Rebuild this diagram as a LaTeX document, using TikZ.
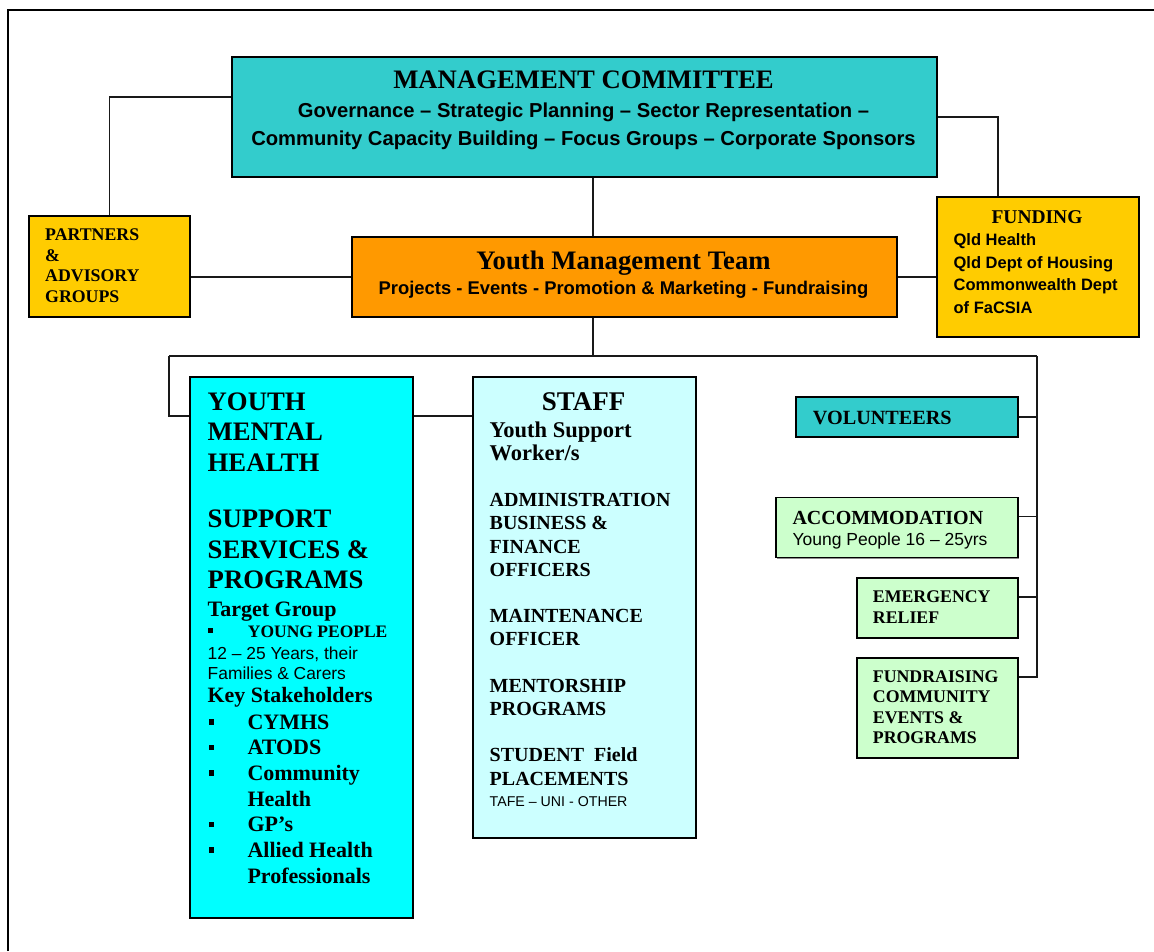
\documentclass[tikz,border=0pt]{standalone}
\usepackage{fontspec}
\setmainfont{Liberation Serif}
\newfontfamily\arial{Liberation Sans}
\usetikzlibrary{shadows}

\definecolor{mcteal}{HTML}{33CCCC}
\definecolor{ymtorange}{HTML}{FF9900}
\definecolor{goldbox}{HTML}{FFCC00}
\definecolor{cyanbox}{HTML}{00FFFF}
\definecolor{palecyan}{HTML}{CCFFFF}
\definecolor{palegreen}{HTML}{CCFFCC}

% Times-style bold and Arial-style bold/regular at a given size / line skip
\newcommand\tb[2]{\rmfamily\fontsize{#1pt}{#2pt}\selectfont\bfseries}
\newcommand\ab[2]{\arial\fontsize{#1pt}{#2pt}\selectfont\bfseries}
\newcommand\ar[2]{\arial\fontsize{#1pt}{#2pt}\selectfont\mdseries}
% square bullet: side, raise, slot width
\newcommand\bul[3]{\makebox[#3][l]{\rule[#2]{#1}{#1}}}

\tikzset{
  orgbox/.style={draw=black, line width=1.7pt, inner sep=0pt, anchor=north west,
    drop shadow={shadow xshift=1.5pt, shadow yshift=-1.5pt, fill=black!45, opacity=1}},
  lbl/.style={inner sep=0pt, anchor=base west},
  clbl/.style={inner sep=0pt, anchor=base},
  conn/.style={line width=1.7pt, draw=black!90},
}

\begin{document}
\begin{tikzpicture}[x=1pt, y=-1pt]
\useasboundingbox (0,0) rectangle (1154,951);

% page frame
\draw[line width=2pt] (8.3,951) -- (8.3,10) -- (1154,10);

% ---- boxes ----
\node[orgbox, fill=mcteal, minimum width=705pt, minimum height=120pt] (mc) at (231,56) {};
\node[orgbox, fill=goldbox, minimum width=161pt, minimum height=101pt] (partners) at (28,215) {};
\node[orgbox, fill=ymtorange, minimum width=545pt, minimum height=80pt] (ymt) at (351,236) {};
\node[orgbox, fill=goldbox, minimum width=202pt, minimum height=140pt] (funding) at (936,196) {};
\node[orgbox, fill=cyanbox, minimum width=223pt, minimum height=541pt] (ymh) at (189,376) {};
\node[orgbox, fill=palecyan, minimum width=223pt, minimum height=461pt] (staff) at (472,376) {};
\node[orgbox, fill=mcteal, minimum width=222pt, minimum height=40pt] (vol) at (795,396) {};
\node[orgbox, fill=palegreen, minimum width=242pt, minimum height=60pt] (acc) at (775,496.5) {};
\node[orgbox, fill=palegreen, minimum width=161pt, minimum height=60pt] (emg) at (856,577) {};
\node[orgbox, fill=palegreen, minimum width=161pt, minimum height=100pt] (fr) at (856,657) {};

% ---- connectors ----
\coordinate (mcL) at ([yshift=20pt]mc.west);
\coordinate (fundTop) at ([xshift=-40pt]funding.north);
\coordinate (spine) at (593,356);
\coordinate (busL) at (169,356);
\coordinate (busR) at (1037,356);
\coordinate (lvl) at (0,416);
\coordinate (accC) at ([yshift=-20pt]acc.north east);
\coordinate (emgC) at ([yshift=-20pt]emg.north east);
\coordinate (frC) at ([yshift=-20pt]fr.north east);

\draw[conn] (mcL) -| (partners.north);
\draw[conn] (mc.east) -| (fundTop);
\draw[conn] (mc.south -| spine) -- (ymt.north -| spine);
\draw[conn] (ymt.west) -- (ymt.west -| partners.east);
\draw[conn] (ymt.east) -- (ymt.east -| funding.west);
\draw[conn] (ymt.south -| spine) -- (spine);
\draw[conn] (busL) -- (busR);
\draw[conn] (busL) |- (ymh.west |- lvl);
\draw[conn] (ymh.east |- lvl) -- (staff.west |- lvl);
\draw[conn] (busR) |- (frC);
\draw[conn] (vol.east) -- (vol.east -| busR);
\draw[conn] (accC) -- (accC -| busR);
\draw[conn] (emgC) -- (emgC -| busR);

% ---- texts ----
\node[clbl] (mcT) at (583.5,88.7) {\parbox[t]{700pt}{\centering\ab{20.2}{28.5}%
  {\tb{26.7}{29}MANAGEMENT COMMITTEE}\\
  Governance – Strategic Planning – Sector Representation –\\
  Community Capacity Building – Focus Groups – Corporate Sponsors}};

\node[lbl] (partT) at (45,240.7) {\parbox[t]{140pt}{\tb{17.8}{20.5}%
  PARTNERS\\ \&\\ ADVISORY\\ GROUPS}};

\node[clbl] (ymtT) at (623.5,269.3) {\parbox[t]{540pt}{\centering\ab{18.4}{25}%
  {\tb{26.7}{25}Youth Management Team}\\
  Projects - Events - Promotion \& Marketing - Fundraising}};

\node[clbl] (fundH) at (1037,223.7) {\tb{19.5}{22}FUNDING};
\node[lbl] (fundL) at (953.4,245.7) {\parbox[t]{180pt}{\ab{16.5}{22.5}%
  Qld Health\\ Qld Dept of Housing\\ Commonwealth Dept\\ of FaCSIA}};

% youth mental health column
\node[lbl] (ymhA) at (207.5,410) {\parbox[t]{200pt}{\tb{26.7}{30.5}%
  YOUTH\\ MENTAL\\ HEALTH\\[26pt]
  SUPPORT\\ SERVICES \&\\ PROGRAMS}};
\node[lbl] (ymhB) at (207.5,616) {\tb{22}{25}Target Group};
\node[lbl] (ymhC) at (208,637) {\tb{17.5}{20}\bul{5pt}{4.3pt}{39.7pt}YOUNG PEOPLE};
\node[lbl] (ymhD) at (207.5,659) {\parbox[t]{200pt}{\ar{17.4}{20}%
  12 – 25 Years, their\\ Families \& Carers}};
\node[lbl] (ymhE) at (207.5,702) {\tb{21.9}{25}Key Stakeholders};
\node[lbl] (ymhF) at (208.3,729) {\parbox[t]{200pt}{\tb{22}{25.7}%
  \bul{5.7pt}{4.5pt}{39pt}CYMHS\\
  \bul{5.7pt}{4.5pt}{39pt}ATODS\\
  \bul{5.7pt}{4.5pt}{39pt}Community\\
  \hspace*{39pt}Health\\
  \bul{5.7pt}{4.5pt}{39pt}GP’s\\
  \bul{5.7pt}{4.5pt}{39pt}Allied Health\\
  \hspace*{39pt}Professionals}};

% staff column
\node[clbl] (staffH) at (583.5,410) {\tb{27}{30}STAFF};
\node[lbl] (staffL) at (489.5,437) {\parbox[t]{205pt}{\tb{20}{23.2}%
  {\fontsize{22.5pt}{23.2pt}\selectfont Youth Support\\ Worker/s}\\[23.2pt]
  ADMINISTRATION\\ BUSINESS \&\\ FINANCE\\ OFFICERS\\[23.2pt]
  MAINTENANCE\\ OFFICER\\[23.2pt]
  MENTORSHIP\\ PROGRAMS\\[23.2pt]
  STUDENT\ \ Field\\ PLACEMENTS\\[-2pt]
  {\ar{14.2}{16}TAFE – UNI - OTHER}}};

% right-hand services
\node[lbl] (volT) at (812.7,424.3) {\tb{20.2}{22}VOLUNTEERS};
\node[lbl] (accT) at (792.3,524) {\parbox[t]{220pt}{\ar{17.5}{21.7}%
  {\tb{20}{21.7}ACCOMMODATION}\\ Young People 16 – 25yrs}};
\node[lbl] (emgT) at (872.7,602) {\parbox[t]{140pt}{\tb{17.8}{21.3}%
  EMERGENCY\\ RELIEF}};
\node[lbl] (frT) at (872.7,682.7) {\parbox[t]{140pt}{\tb{17.8}{20.2}%
  FUNDRAISING\\ COMMUNITY\\ EVENTS \&\\ PROGRAMS}};

\end{tikzpicture}
\end{document}
